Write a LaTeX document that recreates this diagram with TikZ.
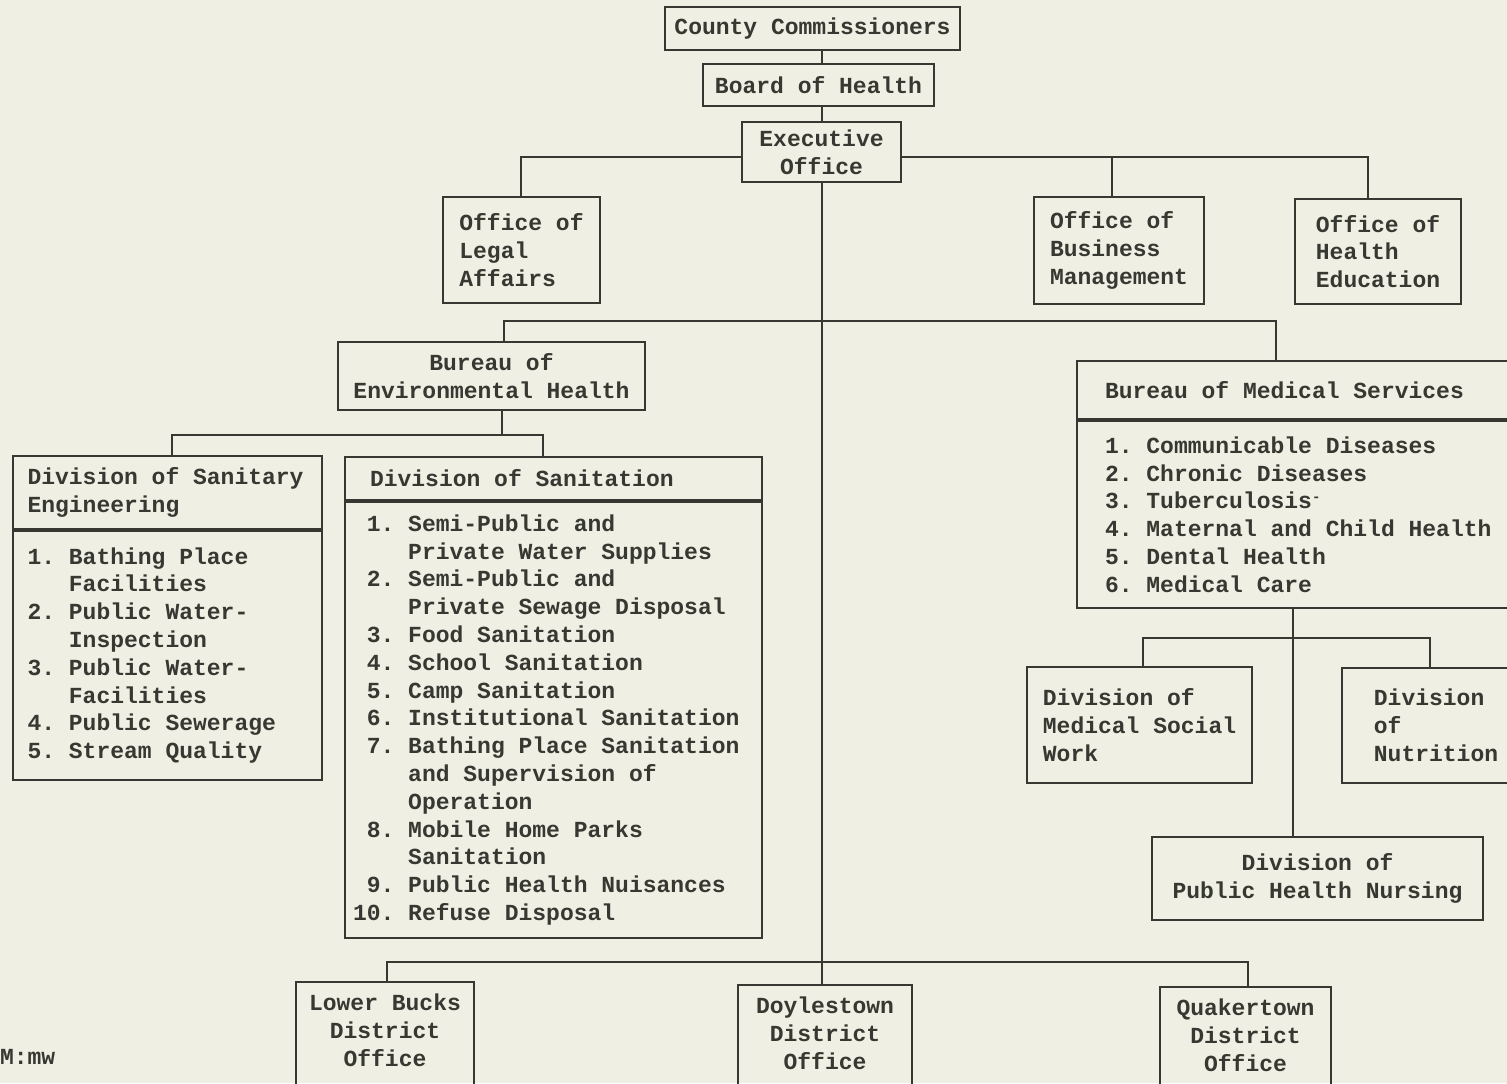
\documentclass[tikz,border=0pt]{standalone}
\usepackage{fontspec}
\setmainfont{Liberation Mono}
\usepackage{tikz}
\usetikzlibrary{positioning}
\definecolor{paper}{RGB}{239,240,227}
\definecolor{ink}{RGB}{56,56,50}

\begin{document}
\begin{tikzpicture}[x=0.5pt, y=-0.5pt, color=ink, line width=1pt]
    \tikzstyle{office}=[draw, inner sep=3pt, font=\fontsize{11.5pt}{13.9pt}\selectfont\bfseries\frenchspacing]
    \tikzstyle{listhead}=[office, align=flush left]
    \tikzstyle{district}=[office, align=center, minimum width=88pt, minimum height=62pt]

    \useasboundingbox (0,0) rectangle (1507,1083);
    \fill[paper] (0,0) rectangle (1507,1083);
    \clip (0,0) rectangle (1507,1083);

    \node[office, minimum width=147.5pt, minimum height=21.5pt] (commish) at (812.5,28.5) {County Commissioners};
    \node[office, minimum width=115.5pt, minimum height=21pt] (board) at (818.5,85) {Board of Health};
    \node[office, align=center, minimum width=79.5pt, minimum height=30pt] (exec) at (821.5,152) {Executive\\Office};

    % staff offices
    \node[office, align=left, minimum width=78.5pt, minimum height=53pt] (legal) at (521.5,250) {Office of\\Legal\\Affairs};
    \node[office, align=left, minimum width=85pt, minimum height=53.5pt] (busi) at (1119,250.5) {Office of\\Business\\Management};
    \node[office, align=left, minimum width=83pt, minimum height=52.5pt] (hlthed) at (1378,251.5) {Office of\\Health\\Education};

    % environmental side
    \node[office, align=center, minimum width=153.5pt, minimum height=34pt] (envbur) at (491.5,376) {Bureau of\\Environmental Health};

    \node[listhead, text width=140pt, inner xsep=7.25pt, minimum height=36.5pt] (enghead) at (167.5,492.5) {Division of Sanitary\\Engineering};
    \node[listhead, text width=140pt, inner xsep=7.25pt, minimum height=124.5pt, below=0pt of enghead] (englist) {%
        1. Bathing Place\\
        \phantom{1. }Facilities\\
        2. Public Water-\\
        \phantom{1. }Inspection\\
        3. Public Water-\\
        \phantom{1. }Facilities\\
        4. Public Sewerage\\
        5. Stream Quality};

    \node[listhead, text width=183.5pt, inner xsep=12.5pt, minimum height=21.5pt] (sanithead) at (553.5,478.5) {Division of Sanitation};
    \node[listhead, text width=200.5pt, inner xsep=4pt, minimum height=218pt, below=0pt of sanithead] (sanitlist) {%
        \phantom{1}1. Semi-Public and\\
        \phantom{10. }Private Water Supplies\\
        \phantom{1}2. Semi-Public and\\
        \phantom{10. }Private Sewage Disposal\\
        \phantom{1}3. Food Sanitation\\
        \phantom{1}4. School Sanitation\\
        \phantom{1}5. Camp Sanitation\\
        \phantom{1}6. Institutional Sanitation\\
        \phantom{1}7. Bathing Place Sanitation\\
        \phantom{10. }and Supervision of\\
        \phantom{10. }Operation\\
        \phantom{1}8. Mobile Home Parks\\
        \phantom{10. }Sanitation\\
        \phantom{1}9. Public Health Nuisances\\
        10. Refuse Disposal};

    % medical side
    \node[listhead, text width=198.5pt, inner xsep=14pt, minimum height=29pt] (medhead) at (1303.5,390) {Bureau of Medical Services};
    \node[listhead, text width=198.5pt, inner xsep=14pt, minimum height=93.5pt, below=0pt of medhead] (medlist) {%
        1. Communicable Diseases\\
        2. Chronic Diseases\\
        3. Tuberculosis\raisebox{.3em}{\scriptsize -}\\
        4. Maternal and Child Health\\
        5. Dental Health\\
        6. Medical Care};

    \node[office, align=left, minimum width=112.5pt, minimum height=58pt] (msw) at (1139.5,725) {Division of\\Medical Social\\Work};
    \node[office, align=left, minimum width=94pt, minimum height=57.5pt] (nutr) at (1436,725.5) {Division\\of\\Nutrition};
    \node[office, align=center, minimum width=165.5pt, minimum height=41.5pt] (phn) at (1317.5,878.5) {Division of\\Public Health Nursing};

    % district offices
    \node[district, minimum width=89pt] (lower) at (385,1044) {Lower Bucks\\District\\Office\\~};
    \node[district, minimum width=87pt] (doyle) at (825,1047) {Doylestown\\District\\Office\\~};
    \node[district, minimum width=85.5pt] (quaker) at (1245.5,1049) {Quakertown\\District\\Office\\~};

    \node[anchor=west, inner sep=0pt, font=\fontsize{11.5pt}{13.9pt}\selectfont\bfseries] (typist) at (-1,1057) {M:mw};

    % junction points
    \coordinate (legaltap) at (521,157);
    \coordinate (busitap) at (1112,157);
    \coordinate (hlthtap) at (1368,157);
    \coordinate (envtap) at (504,321);
    \coordinate (medtap) at (1276,321);
    \coordinate (envdrop) at (502,435);
    \coordinate (engtap) at (172,435);
    \coordinate (sanitap) at (543,435);
    \coordinate (medtrunk) at (1293,638);
    \coordinate (mswtap) at (1143,638);
    \coordinate (nutrtap) at (1430,638);
    \coordinate (lowertap) at (387,962);
    \coordinate (quaktap) at (1248,962);

    % edges
    \draw (commish.south -| exec) -- (board.north -| exec);
    \draw (board.south -| exec) -- (exec.north);
    \draw (exec.west |- legaltap) -- (legaltap) -- (legal.north -| legaltap);
    \draw (exec.east |- hlthtap) -- (hlthtap) -- (hlthed.north -| hlthtap);
    \draw (busitap) -- (busi.north -| busitap);
    \draw (exec.south) -- (exec.south |- doyle.north);   % main trunk

    \draw (envbur.north -| envtap) -- (envtap) -- (medtap) -- (medhead.north -| medtap);
    \draw (envbur.south -| envdrop) -- (envdrop);
    \draw (enghead.north -| engtap) -- (engtap) -- (sanitap) -- (sanithead.north -| sanitap);

    \draw (medlist.south -| medtrunk) -- (phn.north -| medtrunk);
    \draw (msw.north -| mswtap) -- (mswtap) -- (nutrtap) -- (nutr.north -| nutrtap);

    \draw (lower.north -| lowertap) -- (lowertap) -- (quaktap) -- (quaker.north -| quaktap);

\end{tikzpicture}
\end{document}
